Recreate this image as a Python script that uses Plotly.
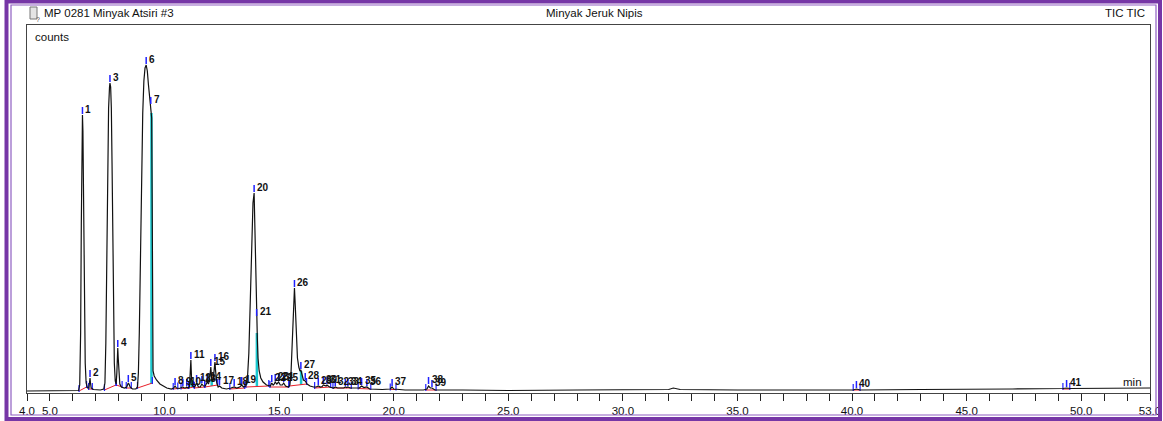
import plotly.graph_objects as go

# ---------------- data ----------------
# chromatogram trace: retention time (min) and signal (relative counts)
trace_t = [4.0, 5.0, 6.0, 6.25,
           6.30, 6.34, 6.37, 6.40, 6.42, 6.44, 6.47, 6.50, 6.54, 6.58, 6.64,
           6.70, 6.73, 6.75, 6.77, 6.80, 6.90, 7.20, 7.35,
           7.40, 7.44, 7.48, 7.52, 7.56, 7.60, 7.62, 7.65, 7.68, 7.71, 7.74, 7.77, 7.81, 7.85, 7.89,
           7.92, 7.94, 7.96, 7.98, 8.01, 8.05, 8.12, 8.25,
           8.35, 8.40, 8.42, 8.45, 8.50, 8.60, 8.75,
           8.82, 8.86, 8.90, 8.95, 9.00, 9.05, 9.10, 9.15, 9.20, 9.25, 9.30, 9.35, 9.40, 9.44,
           9.46, 9.48, 9.50, 9.55, 9.65, 9.80, 9.95, 10.10, 10.30,
           10.40, 10.46, 10.52, 10.65, 10.75, 10.80, 10.86, 10.93, 10.97, 11.02,
           11.09, 11.12, 11.15, 11.18, 11.22, 11.32, 11.40, 11.48, 11.56, 11.63, 11.70,
           11.78, 11.86, 11.92, 11.97, 12.02, 12.06, 12.12, 12.17, 12.20, 12.23, 12.28,
           12.34, 12.40, 12.50, 12.70, 12.90, 13.04, 13.15, 13.28, 13.37, 13.45,
           13.55, 13.62, 13.68, 13.74, 13.80, 13.86, 13.91, 13.94, 13.97, 14.00, 14.02, 14.05,
           14.08, 14.13, 14.20, 14.30, 14.45, 14.55,
           14.62, 14.68, 14.74, 14.79, 14.83, 14.90, 14.95, 14.98, 15.05, 15.14, 15.20, 15.28, 15.40,
           15.47, 15.52, 15.57, 15.62, 15.67, 15.71, 15.75, 15.80, 15.86, 15.91, 15.95, 16.00,
           16.06, 16.14, 16.22, 16.35, 16.50,
           16.62, 16.71, 16.80, 16.88, 16.93, 17.00, 17.05, 17.09, 17.20, 17.38, 17.45, 17.55,
           17.82, 17.89, 17.95, 18.00, 18.10, 18.50, 18.60, 18.70, 18.83, 18.95,
           19.50, 19.85, 19.93, 20.00, 20.50, 21.30, 21.45, 21.52, 21.60, 21.67, 21.80,
           23.0, 25.0, 28.0, 31.0, 32.0, 32.2, 32.5, 35.0, 38.0, 40.05, 40.19, 40.35,
           43.0, 45.0, 47.0, 49.2, 49.36, 49.5, 51.0, 53.0]
trace_v = [2, 2, 2, 2.5,
           8, 60, 170, 260, 278, 262, 180, 90, 30, 10, 5,
           5, 10, 15, 10, 5, 3.5, 3, 4,
           10, 50, 140, 230, 285, 306, 310, 306, 285, 230, 150, 80, 30, 12, 9,
           20, 36, 45, 35, 18, 9, 6, 5,
           6, 9, 10, 9, 6, 4, 4,
           6, 20, 60, 140, 220, 280, 312, 325, 328, 322, 308, 296, 288, 275,
           200, 60, 22, 17, 13, 9, 7, 5, 4,
           5, 7, 5, 4.5, 5, 6, 5, 5, 6, 5,
           6, 15, 33, 14, 7, 6, 10, 6, 6, 9, 7,
           7, 11, 9, 14, 26, 14, 12, 25, 31, 22, 10,
           6, 7, 5, 4, 5, 6, 5, 6, 8, 6,
           7, 15, 40, 90, 150, 190, 200, 170, 110, 80, 76, 55,
           35, 22, 15, 11, 8, 7,
           7, 10, 8, 9, 11, 9, 10, 11, 8, 8, 10, 7, 6,
           8, 20, 50, 90, 105, 85, 55, 35, 26, 22, 23, 18,
           13, 12, 9, 7, 6,
           6, 7, 6, 6.5, 8, 7, 7, 8, 6, 5, 6, 5,
           5, 6, 5.5, 6, 5, 5, 7, 5.5, 6, 4,
           3.5, 4, 6, 4, 3, 3, 4, 7, 5, 5, 3,
           3, 2.5, 3, 3, 3.5, 5, 3.5, 3, 3, 3, 4, 3,
           3.5, 3.5, 4, 4.5, 5, 4.5, 5, 5]

# peak table: labels, apex times and apex heights
peak_labels = [str(i) for i in range(1, 42)]
peak_times = [6.42, 6.75, 7.62, 7.96, 8.42, 9.20, 9.40, 10.46, 10.80, 10.97,
              11.15, 11.40, 11.63, 11.86, 12.02, 12.20, 12.40, 13.04, 13.37, 13.91,
              14.02, 14.68, 14.83, 14.98, 15.20, 15.67, 15.95, 16.14, 16.71, 16.93,
              17.09, 17.45, 17.89, 18.00, 18.60, 18.83, 19.93, 21.52, 21.67, 40.19, 49.36]
peak_heights = [278, 15, 310, 45, 10, 328, 288, 7, 6, 6,
                33, 10, 9, 11, 26, 31, 7, 6, 8, 200,
                76, 10, 11, 11, 10, 105, 23, 12, 7, 8,
                8, 6, 6, 6, 7, 6, 6, 8, 5, 4, 5]

# integration baselines (start time, start level, end time, end level)
base_t0 = [6.27, 6.69, 7.38, 7.90, 8.33, 8.82, 10.38, 10.72, 11.06, 11.30, 11.76, 12.85,
           13.55, 14.60, 15.45, 16.55, 17.35, 18.45, 19.85, 21.40, 40.05, 49.20]
base_v0 = [2, 4, 3, 8, 5, 5, 4, 4.5, 5, 5, 6, 4, 6, 6, 7, 5, 5, 4.5, 3.5, 3, 3, 4]
base_t1 = [6.60, 6.85, 7.88, 8.15, 8.55, 9.47, 10.58, 11.05, 11.27, 11.75, 12.32, 13.50,
           14.55, 15.42, 16.20, 17.25, 18.15, 19.00, 20.10, 21.85, 40.35, 49.50]
base_v1 = [6, 4, 8, 6, 5, 10, 4.5, 5, 6, 6, 8, 5, 7, 6, 9, 6, 5, 4, 3.5, 3, 3, 4]

# perpendicular drop lines (time, top level, bottom level)
drop_t = [9.43, 11.19, 12.06, 14.03, 15.96]
drop_top = [280, 13, 14, 60, 22]
drop_bot = [9, 6, 7, 7, 8]

# axis ticks
tick_vals = list(range(4, 54))
tick_text = ["4.0" if v == 4 else "5.0" if v == 5 else "53.0" if v == 53
             else (f"{v}.0" if v % 5 == 0 else "") for v in tick_vals]

title_left = "MP 0281 Minyak Atsiri #3"
title_mid = "Minyak Jeruk Nipis"
title_right = "TIC TIC"

# ---------------- layout geometry ----------------
W, H = 1163, 421
L, R, T, B = 27, 1150, 25, 393
FONT = "Liberation Sans, Arial, sans-serif"
PURPLE = "#7636a6"


def xp(px):
    return (px - L) / (R - L)


def yp(py):
    return (B - py) / (B - T)


fig = go.Figure()

# cyan drop lines
dx, dy = [], []
for t, top, bot in zip(drop_t, drop_top, drop_bot):
    dx += [t, t, None]
    dy += [bot, top, None]
fig.add_trace(go.Scatter(x=dx, y=dy, mode="lines",
                         line=dict(color="#19c8cf", width=2.5), hoverinfo="skip"))

# red integration baselines
rx, ry = [], []
for a, va, b, vb in zip(base_t0, base_v0, base_t1, base_v1):
    rx += [a, b, None]
    ry += [va, vb, None]
fig.add_trace(go.Scatter(x=rx, y=ry, mode="lines",
                         line=dict(color="#e8202a", width=1), hoverinfo="skip"))

# blue boundary marks
bx, by = [], []
for a, va, b, vb in zip(base_t0, base_v0, base_t1, base_v1):
    bx += [a, a, None, b, b, None]
    by += [va - 1, va + 6, None, vb - 1, vb + 6, None]
fig.add_trace(go.Scatter(x=bx, y=by, mode="lines",
                         line=dict(color="#2020ff", width=1.2), hoverinfo="skip"))

# chromatogram
fig.add_trace(go.Scatter(x=trace_t, y=trace_v, mode="lines",
                         line=dict(color="#111111", width=1.2), hoverinfo="skip"))

# blue apex marks
ax_, ay_ = [], []
for t, h in zip(peak_times, peak_heights):
    ax_ += [t, t, None]
    ay_ += [h + 1, h + 8, None]
fig.add_trace(go.Scatter(x=ax_, y=ay_, mode="lines",
                         line=dict(color="#2020ff", width=1.5), hoverinfo="skip"))

# peak number labels
for lab, t, h in zip(peak_labels, peak_times, peak_heights):
    fig.add_annotation(x=t, y=h, text=f"<b>{lab}</b>", showarrow=False,
                       xanchor="left", yanchor="middle", xshift=1, yshift=6,
                       font=dict(family=FONT, size=10, color="#111111"))

# header texts
fig.add_annotation(xref="paper", yref="paper", x=xp(42), y=yp(13), text=title_left,
                   showarrow=False, xanchor="left", yanchor="middle",
                   font=dict(family=FONT, size=11.5, color="#111111"))
fig.add_annotation(xref="paper", yref="paper", x=xp(594), y=yp(13), text=title_mid,
                   showarrow=False, xanchor="center", yanchor="middle",
                   font=dict(family=FONT, size=11.5, color="#111111"))
fig.add_annotation(xref="paper", yref="paper", x=xp(1147), y=yp(13), text=title_right,
                   showarrow=False, xanchor="right", yanchor="middle",
                   font=dict(family=FONT, size=11.5, color="#111111"))
fig.add_annotation(xref="paper", yref="paper", x=xp(33), y=yp(37), text="counts",
                   showarrow=False, xanchor="left", yanchor="middle",
                   font=dict(family=FONT, size=11.5, color="#111111"))
fig.add_annotation(xref="paper", yref="paper", x=xp(1144), y=yp(382), text="min",
                   showarrow=False, xanchor="right", yanchor="middle",
                   font=dict(family=FONT, size=11.5, color="#111111"))

# small document icon
fig.add_shape(type="rect", xref="paper", yref="paper",
              x0=xp(30), x1=xp(37), y0=yp(19), y1=yp(7),
              fillcolor="#e4e4e4", line=dict(color="#777777", width=1))
fig.add_annotation(xref="paper", yref="paper", x=xp(33.5), y=yp(13.5), text="?",
                   showarrow=False, font=dict(family=FONT, size=7, color="#555555"))

# purple frame
fig.add_shape(type="rect", xref="paper", yref="paper",
              x0=xp(6.5), x1=xp(1160), y0=yp(419), y1=yp(1.5),
              line=dict(color=PURPLE, width=4))
fig.add_shape(type="rect", xref="paper", yref="paper",
              x0=xp(11), x1=xp(1156), y0=yp(415), y1=yp(5),
              line=dict(color="#8f5fc2", width=1.2))

fig.update_layout(
    width=W, height=H, autosize=False,
    margin=dict(l=L, r=W - R, t=T, b=H - B, pad=0, autoexpand=False),
    paper_bgcolor="white", plot_bgcolor="white",
    showlegend=False,
    xaxis=dict(range=[4, 53], tickvals=tick_vals, ticktext=tick_text,
               ticks="outside", ticklen=7, tickwidth=1, tickcolor="#222222",
               showline=True, linecolor="#444444", linewidth=1, mirror=True,
               showgrid=False, zeroline=False, automargin=False,
               tickfont=dict(family=FONT, size=11.5, color="#111111")),
    yaxis=dict(range=[0, B - T], showticklabels=False, ticks="",
               showline=True, linecolor="#444444", linewidth=1, mirror=True,
               showgrid=False, zeroline=False, automargin=False),
)

fig.write_html("out.html", config={"displayModeBar": False},
               post_script="document.body.style.margin='0';"
                           "document.body.style.overflow='hidden';")
